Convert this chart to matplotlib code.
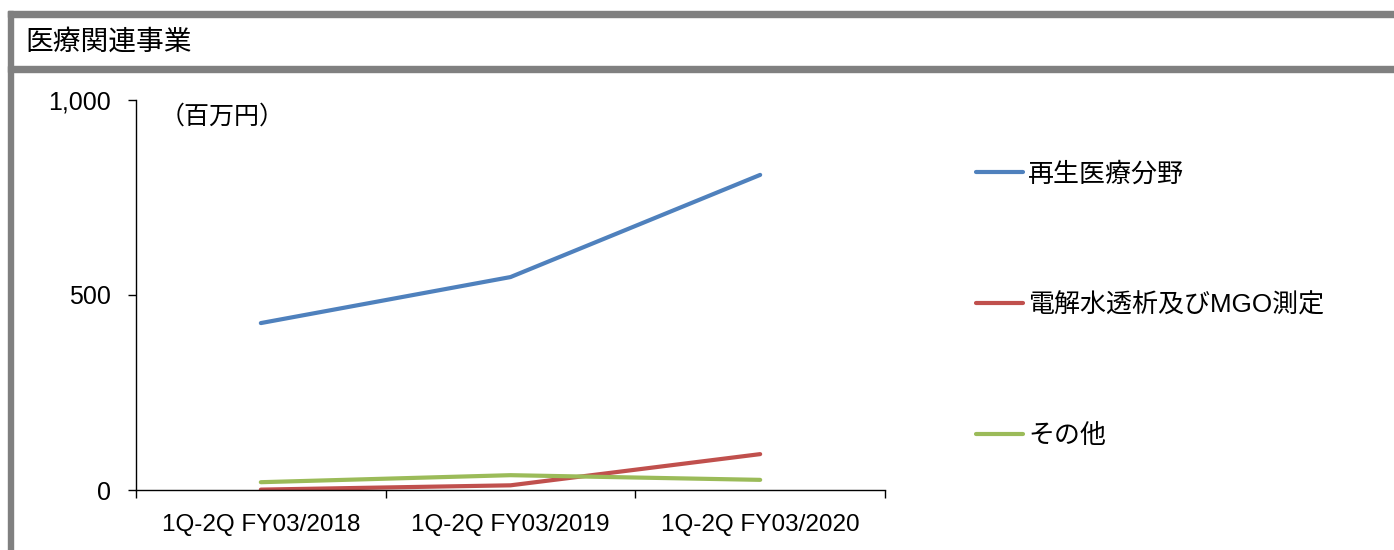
import matplotlib
matplotlib.use("Agg")
import matplotlib.pyplot as plt
from matplotlib.patches import Rectangle

plt.rcParams['font.family'] = ['Liberation Sans', 'Noto Sans CJK JP']

categories = ["1Q-2Q FY03/2018", "1Q-2Q FY03/2019", "1Q-2Q FY03/2020"]
regen = [428, 546, 808]
dialysis = [1, 12, 92]
other = [20, 38, 26]
series_names = ["再生医療分野", "電解水透析及びMGO測定", "その他"]
colors = ["#4F81BD", "#C0504D", "#9BBB59"]

W, H = 1394, 550
fig = plt.figure(figsize=(W / 100, H / 100), dpi=100)

# frame: top rule, rule under the title, left rule
gray = "#808080"
fig.patches.append(Rectangle((8 / W, 1 - 17 / H), 1 - 8 / W, 6 / H,
                             transform=fig.transFigure, color=gray, zorder=0))
fig.patches.append(Rectangle((8 / W, 1 - 72 / H), 1 - 8 / W, 6 / H,
                             transform=fig.transFigure, color=gray, zorder=0))
fig.patches.append(Rectangle((8 / W, 0), 5 / W, 1 - 11 / H,
                             transform=fig.transFigure, color=gray, zorder=0))
fig.text(25 / W, 1 - 43 / H, "医療関連事業", fontsize=20, va="center", ha="left")

ax = fig.add_axes([136 / W, 1 - 490 / H, (885 - 136) / W, 390 / H])
x = range(len(categories))
for vals, name, c in zip([regen, dialysis, other], series_names, colors):
    ax.plot(x, vals, color=c, lw=3, solid_capstyle="round", label=name)

ax.set_xlim(-0.5, 2.5)
ax.set_ylim(0, 1000)
ax.set_yticks([0, 500, 1000])
ax.set_yticklabels(["0", "500", "1,000"])
ax.set_xticks(list(x))
ax.set_xticklabels(categories)
ax.set_xticks([-0.5, 0.5, 1.5, 2.5], minor=True)
ax.tick_params(axis="x", which="major", length=0, pad=17, labelsize=17.5)
ax.tick_params(axis="x", which="minor", length=6, width=1, direction="out")
ax.tick_params(axis="y", length=6, width=1, direction="out", pad=12, labelsize=18)
for s in ["top", "right"]:
    ax.spines[s].set_visible(False)
ax.spines["left"].set_linewidth(1)
ax.spines["bottom"].set_linewidth(1)

fig.text(160 / W, 1 - 117 / H, "（百万円）", fontsize=18, va="center", ha="left")

ax.legend(loc="upper left", bbox_to_anchor=(963 / W, 1 - 149 / H),
          bbox_transform=fig.transFigure, frameon=False, fontsize=18.7,
          handlelength=1.8, handletextpad=0.2, labelspacing=4.1, borderpad=0)

fig.savefig("out.png", dpi=100)
